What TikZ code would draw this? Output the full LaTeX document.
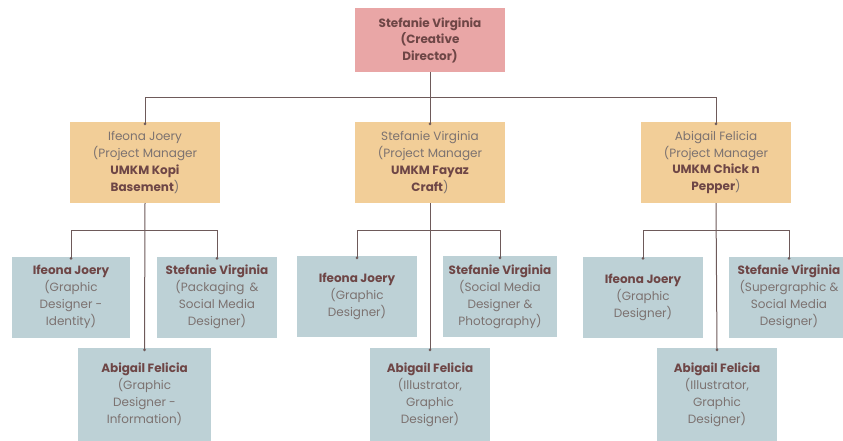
\documentclass[tikz,border=0pt]{standalone}
\usepackage{fontspec}
\setmainfont{Poppins}
\definecolor{topfill}{HTML}{E9A6A6}
\definecolor{pmfill}{HTML}{F2CE98}
\definecolor{tmfill}{HTML}{BDD1D6}
\definecolor{boldtxt}{HTML}{6E4646}
\definecolor{regtxt}{HTML}{7C7270}
\definecolor{linec}{HTML}{6E5A5A}
\tikzset{
  box/.style={rectangle, inner sep=0pt, align=center, font=\fontsize{12}{17}\selectfont, text=regtxt},
  topbox/.style={box, fill=topfill, minimum width=150pt, minimum height=64pt, text=boldtxt, font=\fontsize{12}{16.5}\selectfont},
  pmbox/.style={box, fill=pmfill, minimum width=150pt, minimum height=81pt, font=\fontsize{12}{16.7}\selectfont},
  tmbox/.style={box, fill=tmfill, minimum height=81pt},
  conn/.style={draw=linec, line width=1pt},
  enddot/.style={fill=linec, circle, inner sep=0pt, minimum size=3pt}
}
\newcommand{\bn}[1]{\textbf{\color{boldtxt}#1}}
\begin{document}
\begin{tikzpicture}[x=1pt,y=-1pt]
\useasboundingbox (0,0) rectangle (843,441);
\clip (0,0) rectangle (843,441);
\fill[white] (0,0) rectangle (843,441);
% top
\node[topbox] (top) at (430,40) {\bfseries Stefanie Virginia\\\bfseries (Creative\\\bfseries Director)};
% managers
\node[pmbox] (m1) at (145,162.5) {Ifeona Joery\\(Project Manager\\\bn{UMKM Kopi}\\\bn{Basement})};
\node[pmbox] (m2) at (430,162.5) {Stefanie Virginia\\(Project Manager\\\bn{UMKM Fayaz}\\\bn{Craft})};
\node[pmbox] (m3) at (716,162.5) {Abigail Felicia\\(Project Manager\\\bn{UMKM Chick n}\\\bn{Pepper})};
% left team
\node[tmbox, minimum width=118pt] (a1) at (71,297) {\bn{Ifeona Joery}\\(Graphic\\Designer -\\Identity)};
\node[tmbox, minimum width=120pt] (a2) at (217,297) {\bn{Stefanie Virginia}\\(Packaging \,\&\\Social Media\\Designer)};
\node[tmbox, minimum width=133pt, minimum height=93pt] (a3) at (144.5,394.5) {\bn{Abigail Felicia}\\(Graphic\\Designer -\\Information)};
% middle team
\node[tmbox, minimum width=120pt] (b1) at (357,296.5) {\bn{Ifeona Joery}\\(Graphic\\Designer)};
\node[tmbox, minimum width=114pt] (b2) at (500,296.5) {\bn{Stefanie Virginia}\\(Social Media\\Designer \&\\Photography)};
\node[tmbox, minimum width=120pt, minimum height=93pt] (b3) at (430,394.5) {\bn{Abigail Felicia}\\(Illustrator,\\Graphic\\Designer)};
% right team
\node[tmbox, minimum width=120pt] (c1) at (643,297) {\bn{Ifeona Joery}\\(Graphic\\Designer)};
\node[tmbox, minimum width=120pt] (c2) at (789,297) {\bn{Stefanie Virginia}\\(Supergraphic \&\\Social Media\\Designer)};
\node[tmbox, minimum width=120pt, minimum height=93pt] (c3) at (717,394.5) {\bn{Abigail Felicia}\\(Illustrator,\\Graphic\\Designer)};
% junctions
\coordinate (j0) at (430,97.5);
\coordinate (j1) at (145,230.5);
\coordinate (j2) at (430,230.5);
\coordinate (j3) at (716,230.5);
% connectors
\draw[conn] (top.south) -- (j0);
\draw[conn] (j0) -| ([yshift=-2pt]m1.north) node[enddot]{};
\draw[conn] (j0) -| ([yshift=-2pt]m3.north) node[enddot]{};
\draw[conn] (j0) -- ([yshift=-2pt]m2.north) node[enddot]{};
\draw[conn] (m1.south) -- ([yshift=-2pt]a3.north) node[enddot]{};
\draw[conn] (j1) -| ([yshift=-2pt]a1.north) node[enddot]{};
\draw[conn] (j1) -| ([yshift=-2pt]a2.north) node[enddot]{};
\draw[conn] (m2.south) -- ([yshift=-2pt]b3.north) node[enddot]{};
\draw[conn] (j2) -| ([yshift=-2pt]b1.north) node[enddot]{};
\draw[conn] (j2) -| ([yshift=-2pt]b2.north) node[enddot]{};
\draw[conn] (m3.south) -- ([yshift=-2pt]c3.north) node[enddot]{};
\draw[conn] (j3) -| ([yshift=-2pt]c1.north) node[enddot]{};
\draw[conn] (j3) -| ([yshift=-2pt]c2.north) node[enddot]{};
\end{tikzpicture}
\end{document}
